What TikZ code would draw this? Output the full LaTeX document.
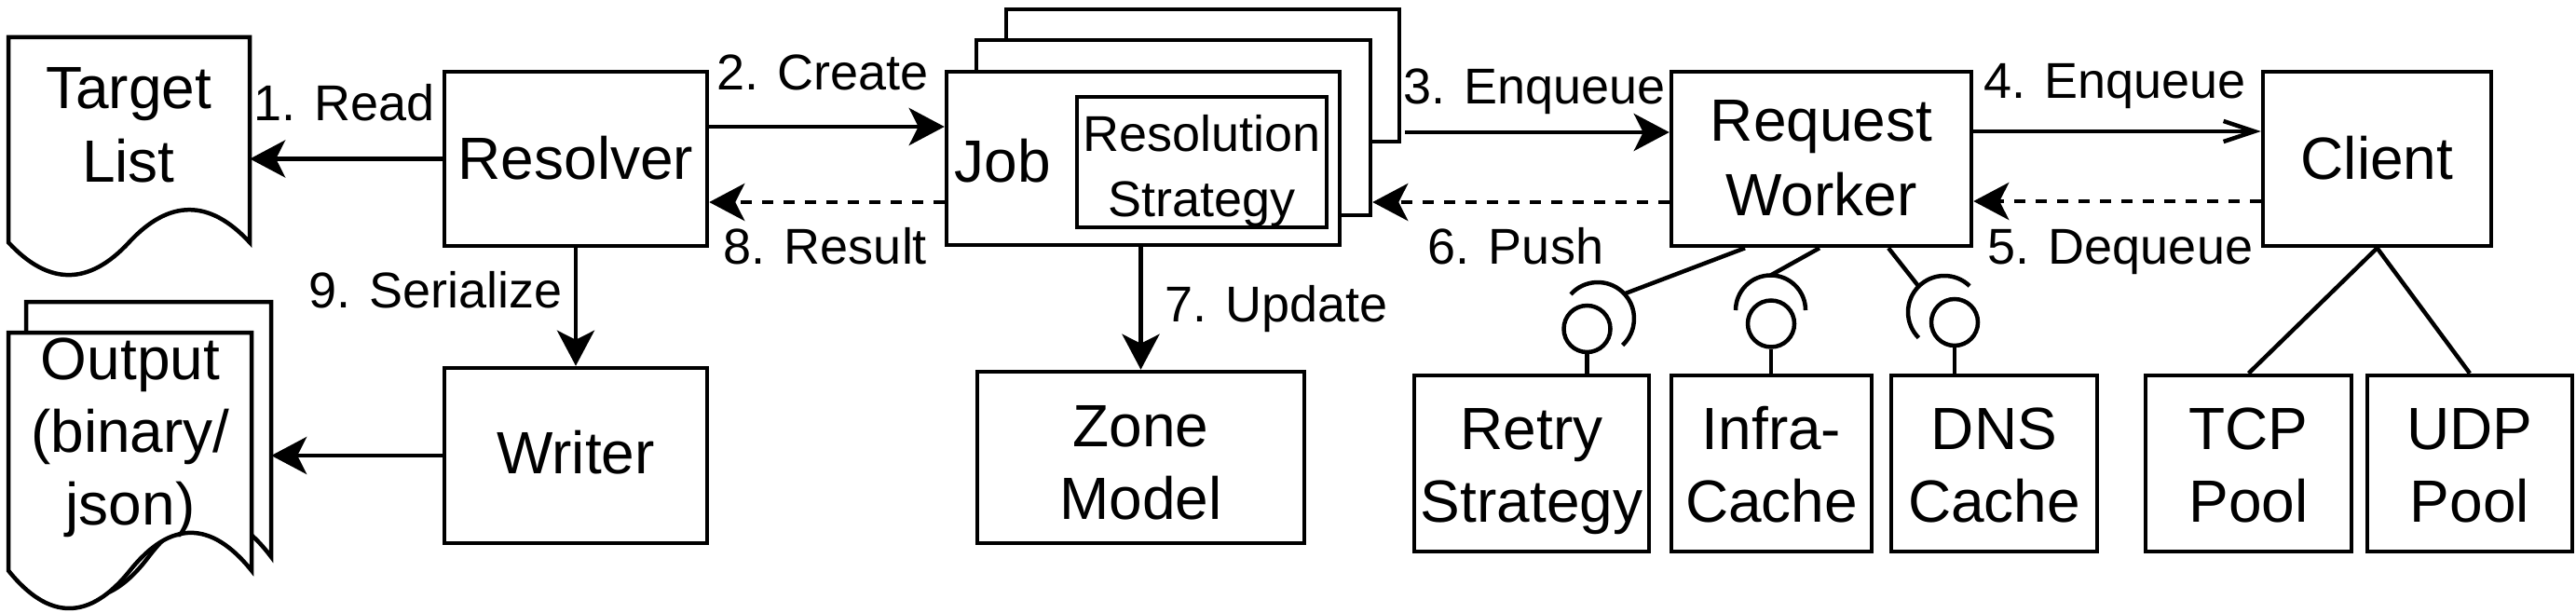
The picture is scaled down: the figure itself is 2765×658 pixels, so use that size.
\documentclass[tikz,border=0pt]{standalone}
\usepackage{fontspec}
\setmainfont{Liberation Sans}
\usetikzlibrary{arrows.meta}
\newcommand{\mydocshape}[5]{%
  \pgfmathsetmacro\docX{#2}\pgfmathsetmacro\docY{#3}%
  \pgfmathsetmacro\docW{#4}\pgfmathsetmacro\docH{#5}%
  \pgfmathsetmacro\docD{0.3*\docH}%
  \pgfmathsetmacro\docS{\docY+\docH-\docD/2}%
  \pgfmathsetmacro\docQ{\docY+\docH-1.4*\docD}%
  \pgfmathsetmacro\docR{\docY+\docH+0.4*\docD}%
  \pgfmathsetmacro\docCa{\docS+2/3*(\docQ-\docS)}%
  \pgfmathsetmacro\docCb{\docS+2/3*(\docR-\docS)}%
  \draw[#1] (\docX,\docY) -- ({\docX+\docW},\docY) -- ({\docX+\docW},\docS)
    .. controls ({\docX+\docW-\docW/6},\docCa) and ({\docX+\docW/2+\docW/6},\docCa) .. ({\docX+\docW/2},\docS)
    .. controls ({\docX+\docW/2-\docW/6},\docCb) and ({\docX+\docW/6},\docCb) .. (\docX,\docS) -- cycle;
}
\begin{document}
\begin{tikzpicture}[x=1pt,y=-1pt,
  box/.style={draw, line width=4.5pt, fill=white, inner sep=0pt, rectangle},
  ghost/.style={inner sep=0pt, rectangle},
  bigtxt/.style={font=\fontsize{64pt}{78pt}\selectfont, inner sep=0pt, anchor=base},
  smtxt/.style={font=\fontsize{54pt}{65pt}\selectfont, inner sep=0pt, anchor=base},
  conn/.style={line width=4.5pt},
  arr/.style={conn, -{Stealth[length=38pt,width=40pt,inset=10pt]}},
  darr/.style={arr, dash pattern=on 12pt off 11pt},
  oarr/.style={conn, -{Straight Barb[length=33pt,width=22pt]}},
  lolly/.style={draw, circle, line width=4.5pt, minimum size=50pt, inner sep=0pt, fill=white},
  docline/.style={line width=4.5pt, fill=white, line join=miter}
]
\useasboundingbox (0,0) rectangle (2765,658);

% documents
\node[ghost, minimum width=259pt, minimum height=259pt] (target) at (138.5,169.5) {};
\mydocshape{docline}{9}{40}{259}{259}
\node[bigtxt] (targetT1) at (138,117) {Target};
\node[bigtxt] (targetT2) at (138,195) {List};

\node[ghost, minimum width=263pt, minimum height=322pt] (outb) at (159.5,485) {};
\node[ghost, minimum width=261pt, minimum height=300pt] (outf) at (139.5,507) {};
\mydocshape{docline}{28}{324}{263}{322}
\mydocshape{docline}{9}{357}{261}{300.5}
\node[bigtxt] (outT1) at (140,407) {Output};
\node[bigtxt] (outT2) at (140,485) {(binary/};
\node[bigtxt] (outT3) at (140,563) {json)};

% boxes
\node[box, minimum width=282pt, minimum height=187pt] (resolver) at (618,170.5) {};
\node[bigtxt] (resolverT) at (618,192) {Resolver};
\node[box, minimum width=282pt, minimum height=188pt] (writer) at (618,489) {};
\node[bigtxt] (writerT) at (618,508) {Writer};

\node[box, minimum width=422pt, minimum height=142pt] (jobb) at (1291,81) {};
\node[box, minimum width=423pt, minimum height=188pt] (jobm) at (1259.5,137) {};
\node[box, minimum width=422pt, minimum height=186pt] (jobf) at (1227,170) {};
\node[bigtxt] (jobT) at (1076,195) {Job};
\node[box, minimum width=268pt, minimum height=140pt] (rs) at (1290,174) {};
\node[smtxt] (rsT1) at (1290,163) {Resolution};
\node[smtxt] (rsT2) at (1290,232) {Strategy};

\node[box, minimum width=322pt, minimum height=187pt] (rw) at (1955,170.5) {};
\node[bigtxt] (rwT1) at (1955,152) {Request};
\node[bigtxt] (rwT2) at (1955,231) {Worker};
\node[box, minimum width=245pt, minimum height=187pt] (client) at (2551.5,170.5) {};
\node[bigtxt] (clientT) at (2551.5,192) {Client};

\node[box, minimum width=351pt, minimum height=184pt] (zone) at (1224.5,491) {};
\node[bigtxt] (zoneT1) at (1224.5,479) {Zone};
\node[bigtxt] (zoneT2) at (1224.5,557) {Model};

\node[box, minimum width=252pt, minimum height=189pt] (retry) at (1644,497.5) {};
\node[bigtxt] (retryT1) at (1644,482) {Retry};
\node[bigtxt] (retryT2) at (1644,560) {Strategy};
\node[box, minimum width=215pt, minimum height=189pt] (infra) at (1901.5,497.5) {};
\node[bigtxt] (infraT1) at (1901.5,482) {Infra-};
\node[bigtxt] (infraT2) at (1901.5,560) {Cache};
\node[box, minimum width=221pt, minimum height=189pt] (dns) at (2140.5,497.5) {};
\node[bigtxt] (dnsT1) at (2140.5,482) {DNS};
\node[bigtxt] (dnsT2) at (2140.5,560) {Cache};
\node[box, minimum width=221pt, minimum height=189pt] (tcp) at (2413.5,497.5) {};
\node[bigtxt] (tcpT1) at (2413.5,482) {TCP};
\node[bigtxt] (tcpT2) at (2413.5,560) {Pool};
\node[box, minimum width=220pt, minimum height=189pt] (udp) at (2651,497.5) {};
\node[bigtxt] (udpT1) at (2651,482) {UDP};
\node[bigtxt] (udpT2) at (2651,560) {Pool};

% lollipops
\node[lolly] (lolR) at (1703.5,353) {};
\node[lolly] (lolI) at (1901,347.5) {};
\node[lolly] (lolD) at (2098,346) {};
\draw[conn] (lolR.south) -- (lolR.south |- retry.north);
\draw[conn] (lolI.south) -- (lolI.south |- infra.north);
\draw[conn] (lolD.south) -- (lolD.south |- dns.north);
\draw[conn] (1715,342) ++(138:39pt) arc[start angle=138, end angle=-47, radius=39pt];
\draw[conn] (1900.5,333) ++(180:37.5pt) arc[start angle=180, end angle=0, radius=37.5pt];
\draw[conn] (2087,335) ++(225:39pt) arc[start angle=225, end angle=46, radius=39pt];
\coordinate (sockR) at (1743.5,315.4);
\coordinate (sockI) at (1900.5,295.5);
\coordinate (sockD) at (2059.4,307.4);
\draw[conn] (rw.south -| 1873,0) -- (sockR);
\draw[conn] (rw.south -| 1953,0) -- (sockI);
\draw[conn] (rw.south -| 2027,0) -- (sockD);
\draw[conn] (client.south) -- (tcp.north);
\draw[conn] (client.south) -- (udp.north);

% connectors
\draw[arr] (resolver.west) -- (target.east |- resolver.west);
\draw[arr] (resolver.east |- 0,136) -- (jobf.west |- 0,136);
\draw[arr, shorten <=4pt] (jobb.east |- 0,142) -- (rw.west |- 0,142);
\draw[oarr] (rw.east |- 0,141) -- (client.west |- 0,141);
\draw[darr] (client.west |- 0,216) -- (rw.east |- 0,216);
\draw[darr] (rw.west |- 0,217) -- (jobm.east |- 0,217);
\draw[arr] (zone.north |- jobf.south) -- (zone.north);
\draw[darr] (jobf.west |- 0,217) -- (resolver.east |- 0,217);
\draw[arr] (resolver.south) -- (writer.north);
\draw[arr] (writer.west) -- (outb.east |- writer.west);

% labels
\node[smtxt] (l1) at (370,130) {1. Read};
\node[smtxt] (l2) at (883,97) {2. Create};
\node[smtxt] (l3) at (1647,112) {3. Enqueue};
\node[smtxt] (l4) at (2270,106) {4. Enqueue};
\node[smtxt] (l5) at (2276,283) {5. Dequeue};
\node[smtxt] (l6) at (1627,283) {6. Push};
\node[smtxt] (l7) at (1370,345) {7. Update};
\node[smtxt] (l8) at (886,283) {8. Result};
\node[smtxt] (l9) at (468,330) {9. Serialize};
\end{tikzpicture}
\end{document}
